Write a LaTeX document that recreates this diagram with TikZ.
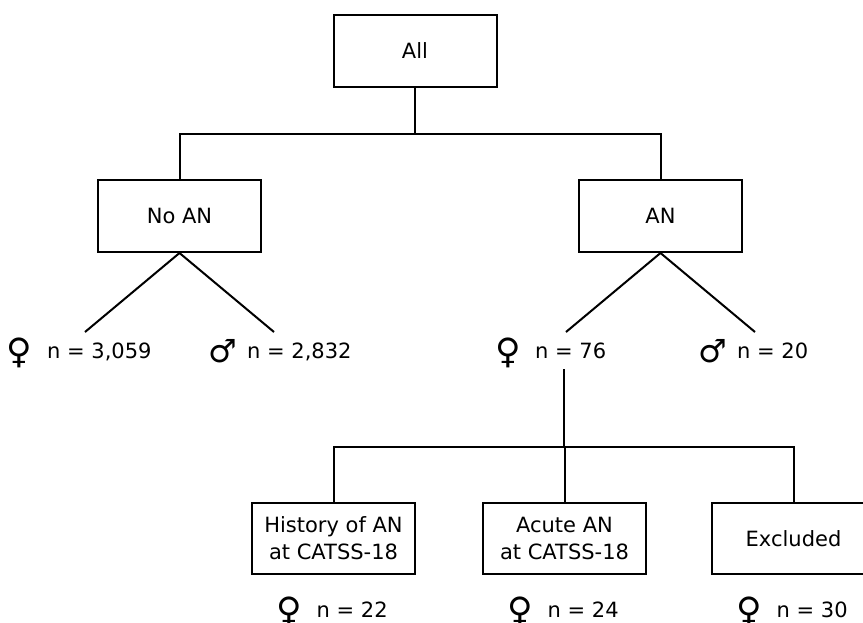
\documentclass[tikz,border=0pt]{standalone}
\usepackage{fontspec}
\setmainfont{DejaVu Sans}
\usetikzlibrary{calc}
\begin{document}
\begin{tikzpicture}[x=1pt,y=-1pt,
  box/.style={draw, line width=2pt, minimum width=163pt, minimum height=72pt, inner sep=0pt, align=center, font=\fontsize{21}{27}\selectfont},
  lbl/.style={anchor=base west, inner sep=0pt, font=\fontsize{21}{27}\selectfont},
  fsym/.style={anchor=base, inner sep=0pt, font=\fontsize{35}{35}\selectfont},
  msym/.style={anchor=base, inner sep=0pt, font=\fontsize{32}{32}\selectfont},
  link/.style={line width=2pt}]
\useasboundingbox (0,0) rectangle (863,622);
\clip (0,0) rectangle (863,622);
% boxes
\node[box] (all) at (415,51) {All};
\node[box] (noan) at (179.5,216) {No AN};
\node[box] (an) at (660.5,216) {AN};
\node[box, minimum height=71pt] (hist) at (333.5,538.5) {History of AN\\at CATSS-18};
\node[box, minimum height=71pt] (acute) at (564.5,538.5) {Acute AN\\at CATSS-18};
\node[box, minimum height=71pt] (excl) at (793.5,538.5) {Excluded};
% labels: symbol + count
\node[fsym] (nfs) at (19.5,363) {♀};
\node[lbl] (nf) at (47,358) {n = 3,059};
\node[msym] (nms) at (222.5,362) {♂};
\node[lbl] (nm) at (247,358) {n = 2,832};
\node[fsym] (afs) at (508.5,363) {♀};
\node[lbl] (af) at (535,358) {n = 76};
\node[msym] (ams) at (712.5,362) {♂};
\node[lbl] (am) at (737,358) {n = 20};
\node[fsym] (hfs) at (289,622) {♀};
\node[lbl] (hf) at (316.5,617) {n = 22};
\node[fsym] (acfs) at (520,622) {♀};
\node[lbl] (acf) at (547.5,617) {n = 24};
\node[fsym] (exfs) at (749,622) {♀};
\node[lbl] (exf) at (776.5,617) {n = 30};
% connector points
\coordinate (bus1) at (0,134);
\coordinate (bus2) at (0,447);
\coordinate (nfe) at (85,332);
\coordinate (nme) at (274,332);
\coordinate (afe) at (566,332);
\coordinate (ame) at (755,332);
\coordinate (down) at (564,369);
% connectors
\draw[link] (all.south) -- (all.south |- bus1);
\draw[link] (noan.north) -- (noan.north |- bus1) -- (an.north |- bus1) -- (an.north);
\draw[link] (nfe) -- (noan.south) -- (nme);
\draw[link] (afe) -- (an.south) -- (ame);
\draw[link] (down) -- (down |- bus2);
\draw[link] (hist.north) -- (hist.north |- bus2) -- (excl.north |- bus2) -- (excl.north);
\draw[link] (acute.north) -- (acute.north |- bus2);
\end{tikzpicture}
\end{document}
